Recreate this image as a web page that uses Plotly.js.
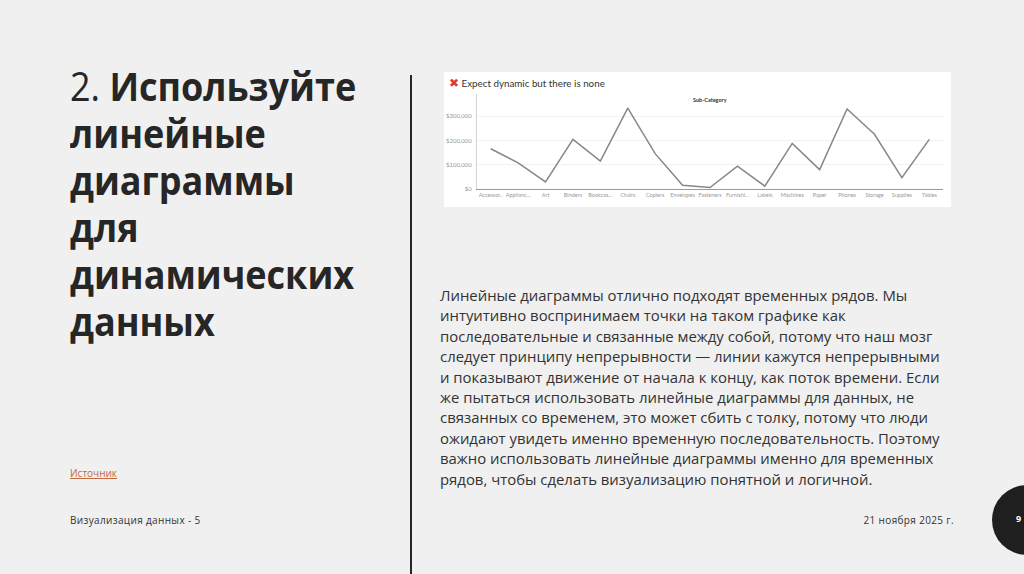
<!DOCTYPE html>
<html lang="ru">
<head>
<meta charset="utf-8">
<script src="https://cdn.plot.ly/plotly-3.0.1.min.js"></script>
<style>
  html, body { margin: 0; padding: 0; }
  body {
    width: 1024px; height: 574px; overflow: hidden;
    background: #f0f0f0; position: relative;
    font-family: 'Open Sans', 'Noto Sans', sans-serif; color: #2b2b2b;
  }
  .slide-title {
    position: absolute; left: 70px; top: 62px;
    font-size: 40px; line-height: 47px; font-weight: 700; color: #262626;
    white-space: nowrap;
    transform: scaleX(0.9); transform-origin: left top;
  }
  .slide-title .num { font-weight: 400; }
  .divider {
    position: absolute; left: 410px; top: 75px; width: 2px; height: 499px;
    background: #262626;
  }
  #chart {
    position: absolute; left: 444px; top: 72px; width: 507px; height: 135px;
  }
  .body-text {
    position: absolute; left: 440px; top: 285px;
    font-size: 14.9px; line-height: 20.4px; color: #333;
    white-space: nowrap;
  }
  .source {
    position: absolute; left: 70px; top: 466px;
    font-size: 10px; color: #c4693c; text-decoration: underline;
  }
  .footer {
    position: absolute; top: 513px; font-size: 10px; letter-spacing: 0.35px; color: #333;
    white-space: nowrap;
  }
  .page-num {
    position: absolute; left: 992px; top: 485px; width: 70px; height: 70px;
    border-radius: 50%; background: #1f1f1f;
  }
  .page-num span {
    position: absolute; left: 24px; top: 27px; font-size: 9px; font-weight: 700; color: #fff;
  }
</style>
</head>
<body>

<div class="slide-title"><span class="num">2.</span> Используйте<br>линейные<br>диаграммы<br>для<br>динамических<br>данных</div>
<div class="divider"></div>
<div id="chart"></div>

<div class="body-text">Линейные диаграммы отлично подходят временных рядов. Мы<br>интуитивно воспринимаем точки на таком графике как<br>последовательные и связанные между собой, потому что наш мозг<br>следует принципу непрерывности — линии кажутся непрерывными<br>и показывают движение от начала к концу, как поток времени. Если<br>же пытаться использовать линейные диаграммы для данных, не<br>связанных со временем, это может сбить с толку, потому что люди<br>ожидают увидеть именно временную последовательность. Поэтому<br>важно использовать линейные диаграммы именно для временных<br>рядов, чтобы сделать визуализацию понятной и логичной.</div>

<div class="source">Источник</div>
<div class="footer" style="left:70px;">Визуализация данных - 5</div>
<div class="footer" style="right:70px;">21 ноября 2025 г.</div>
<div class="page-num"><span>9</span></div>

<script>
// Продажи по подкатегориям
const subCategories = ['Accessor..', 'Applianc...', 'Art', 'Binders', 'Bookcas...', 'Chairs', 'Copiers',
  'Envelopes', 'Fasteners', 'Furnishi...', 'Labels', 'Machines', 'Paper', 'Phones', 'Storage',
  'Supplies', 'Tables'];
const sales = [166000, 108000, 29000, 205000, 115000, 334000, 146000, 15000, 6000, 94000,
  12000, 188000, 80000, 330000, 226000, 47000, 205000];
const yTickVals = [0, 100000, 200000, 300000];
const yTickText = ['$0', '$100,000', '$200,000', '$300,000'];

const trace = {
  x: subCategories,
  y: sales,
  type: 'scatter',
  mode: 'lines',
  line: { color: '#878787', width: 1.5 },
  hoverinfo: 'skip'
};

const layout = {
  width: 507,
  height: 135,
  paper_bgcolor: '#ffffff',
  plot_bgcolor: '#ffffff',
  margin: { l: 33, r: 8, t: 22, b: 18 },
  showlegend: false,
  font: { family: 'Lato, "Open Sans", sans-serif', color: '#999', size: 5.5 },
  title: {
    text: '<span style="color:#d93a32;font-size:12px">✖</span> Expect dynamic but there is none',
    xref: 'container', yref: 'container',
    x: 5 / 507, xanchor: 'left',
    y: 1 - 12 / 135, yanchor: 'middle',
    font: { family: 'Lato, "Open Sans", sans-serif', size: 9.8, color: '#333' }
  },
  xaxis: {
    type: 'category',
    range: [-0.5, subCategories.length - 0.5],
    showgrid: false,
    zeroline: false,
    showline: true,
    linecolor: '#9a9a9a',
    linewidth: 1,
    ticks: '',
    tickangle: 0,
    tickfont: { size: 5.5, color: '#999' }
  },
  yaxis: {
    range: [0, 392000],
    tickvals: yTickVals,
    ticktext: yTickText,
    showgrid: true,
    gridcolor: '#f1f1f1',
    zeroline: false,
    showline: true,
    linecolor: '#d4d4d4',
    linewidth: 1,
    ticks: '',
    ticklabelstandoff: 3,
    tickfont: { size: 6, color: '#999' }
  },
  annotations: [{
    text: '<b>Sub-Category</b>',
    xref: 'paper', yref: 'paper',
    x: 0.5, y: 1, xanchor: 'center', yanchor: 'top', yshift: -1,
    showarrow: false,
    font: { size: 5.5, color: '#333' }
  }]
};

Plotly.newPlot('chart', [trace], layout, { staticPlot: true, displayModeBar: false });
</script>
</body>
</html>
